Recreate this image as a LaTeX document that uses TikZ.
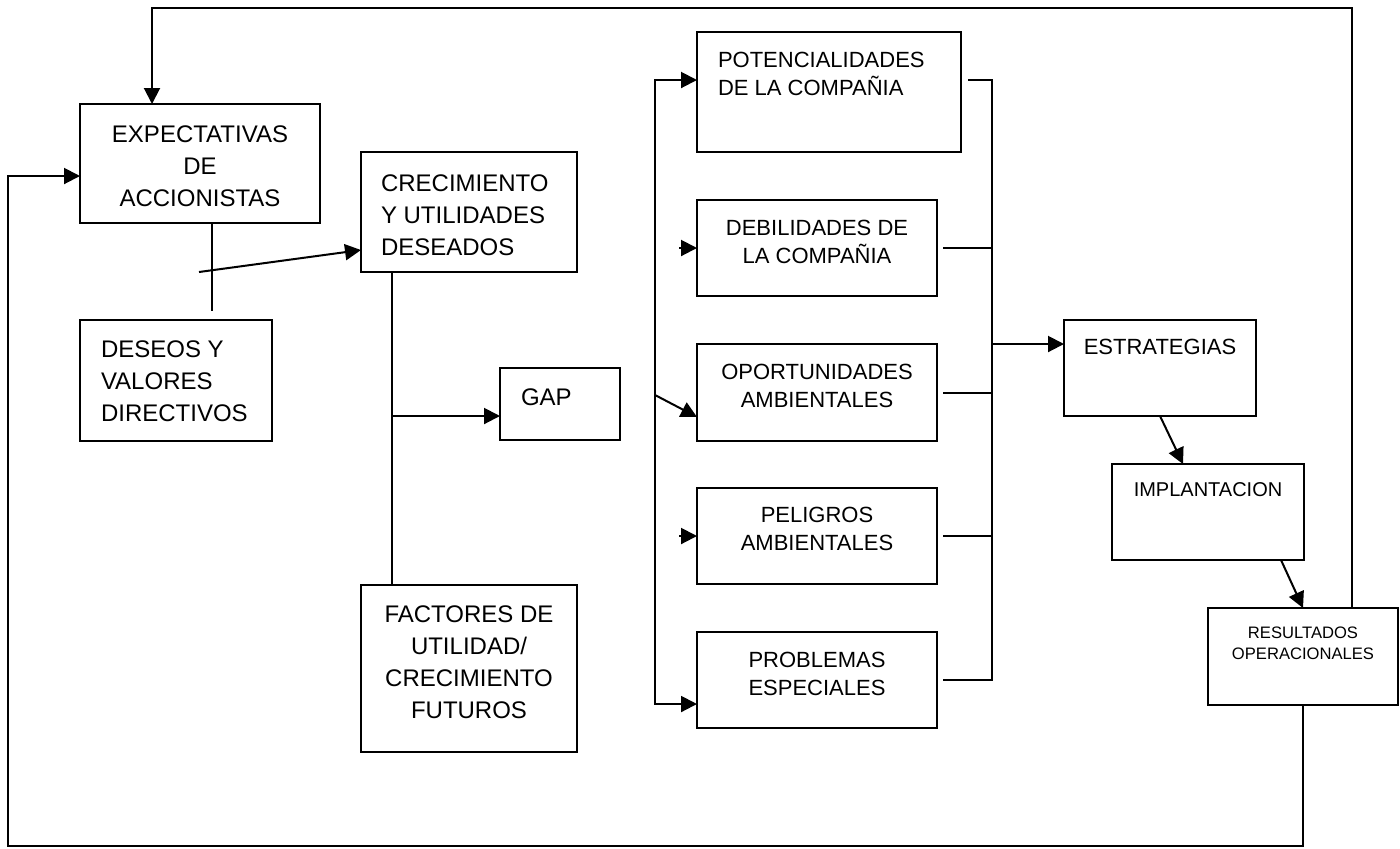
\documentclass[tikz,border=0pt]{standalone}
\usepackage{fontspec}
\setmainfont{Liberation Sans}
\usetikzlibrary{arrows.meta}

\begin{document}
\begin{tikzpicture}[x=0.5pt,y=-0.5pt,line width=1pt,
  box/.style={draw, inner sep=0pt, outer sep=0pt, anchor=north west},
  big/.style={font=\fontsize{12}{16}\selectfont, inner sep=0pt, anchor=north},
  mid/.style={font=\fontsize{11}{14.25}\selectfont, inner sep=0pt, anchor=north},
  arr/.style={-{Triangle[length=8pt,width=8pt]}},
  arrb/.style={{Triangle[length=8pt,width=8pt]}-{Triangle[length=8pt,width=8pt]}}]
\useasboundingbox (0,0) rectangle (1400,848);

% boxes
\node[box, minimum width=120pt, minimum height=59.5pt] (expect) at (80,104) {};
\node[box, minimum width=108pt, minimum height=60pt] (crec) at (361,152) {};
\node[box, minimum width=96pt, minimum height=60.5pt] (deseos) at (80,320) {};
\node[box, minimum width=60pt, minimum height=36pt] (gap) at (500,368) {};
\node[box, minimum width=108pt, minimum height=83.5pt] (fact) at (361,585) {};
\node[box, minimum width=132pt, minimum height=60pt] (poten) at (697,32) {};
\node[box, minimum width=120pt, minimum height=48pt] (debil) at (697,200) {};
\node[box, minimum width=120pt, minimum height=48.5pt] (oport) at (697,344) {};
\node[box, minimum width=120pt, minimum height=48pt] (pelig) at (697,488) {};
\node[box, minimum width=120pt, minimum height=48pt] (probl) at (697,632) {};
\node[box, minimum width=96pt, minimum height=48pt] (estrat) at (1064,320) {};
\node[box, minimum width=96pt, minimum height=48pt] (implant) at (1112,464) {};
\node[box, minimum width=95pt, minimum height=48.5pt] (result) at (1208,608) {};

% texts
\node[big, align=center] (expecttxt) at (200,125) {EXPECTATIVAS\\DE\\ACCIONISTAS};
\node[big, align=left, anchor=north west] (crectxt) at (380,174) {CRECIMIENTO\\Y UTILIDADES\\DESEADOS};
\node[big, align=left, anchor=north west] (deseostxt) at (100,340) {DESEOS Y\\VALORES\\DIRECTIVOS};
\node[big, anchor=north west] (gaptxt) at (520,388) {GAP};
\node[big, align=center] (facttxt) at (469,605) {FACTORES DE\\UTILIDAD/\\CRECIMIENTO\\FUTUROS};
\node[mid, align=left, anchor=north west] (potentxt) at (717,51) {POTENCIALIDADES\\DE LA COMPAÑIA};
\node[mid, align=center] (debiltxt) at (817,219) {DEBILIDADES DE\\LA COMPAÑIA};
\node[mid, align=center] (oporttxt) at (817,363) {OPORTUNIDADES\\AMBIENTALES};
\node[mid, align=center] (peligtxt) at (817,506) {PELIGROS\\AMBIENTALES};
\node[mid, align=center] (probltxt) at (817,651) {PROBLEMAS\\ESPECIALES};
\node[mid] (estrattxt) at (1160,338) {ESTRATEGIAS};
\node[inner sep=0pt, anchor=north, font=\fontsize{10}{12}\selectfont] (implanttxt) at (1208,482) {IMPLANTACION};
\node[inner sep=0pt, anchor=north, align=center, font=\fontsize{8.3}{10.5}\selectfont] (resulttxt) at (1303,626) {RESULTADOS\\OPERACIONALES};

% feedback loops
\coordinate (fbR) at (1352,8);
\coordinate (fbL) at (152,8);
\draw[arr] (fbR |- result.north) -- (fbR) -- (fbL) -- (fbL |- expect.north);
\coordinate (rbL) at (8,846);
\coordinate (lfT) at (8,176);
\draw[arr] (result.south) -- (result.south |- rbL) -- (rbL) -- (lfT) -- (lfT -| expect.west);

% left part
\coordinate (dd) at (212,311);
\coordinate (dds) at (199,272);
\draw (dd |- expect.south) -- (dd);
\draw[arr] (dds) -- (crec.west |- 0,250);
\coordinate (trk) at (392,416);
\draw (trk |- crec.south) -- (trk |- fact.north);
\draw[arr] (trk) -- (trk -| gap.west);

% left bus
\coordinate (blT) at (655,80);
\coordinate (blB) at (655,704);
\coordinate (blM) at (655,395);
\draw[arrb] (blT -| poten.west) -- (blT) -- (blB) -- (blB -| probl.west);
\draw[arr] (blM) -- (oport.west |- 0,417);
\foreach \b in {debil,pelig}
	\draw[arr] ([xshift=-9pt]\b.west) -- (\b.west);

% right bus
\coordinate (brT) at (992,80);
\coordinate (brE) at (992,344);
\draw ([xshift=3.5pt]poten.east |- brT) -- (brT) |- ([xshift=3pt]probl.east);
\foreach \b in {debil,oport,pelig}
	\draw ([xshift=3pt]\b.east) -- (\b.east -| brT);
\draw[arr] (brE) -- (brE -| estrat.west);
\draw[arr] (estrat.south) -- ([xshift=35.5pt]implant.north west);
\draw[arr] ([xshift=-11.5pt]implant.south east) -- (result.north);
\end{tikzpicture}
\end{document}
